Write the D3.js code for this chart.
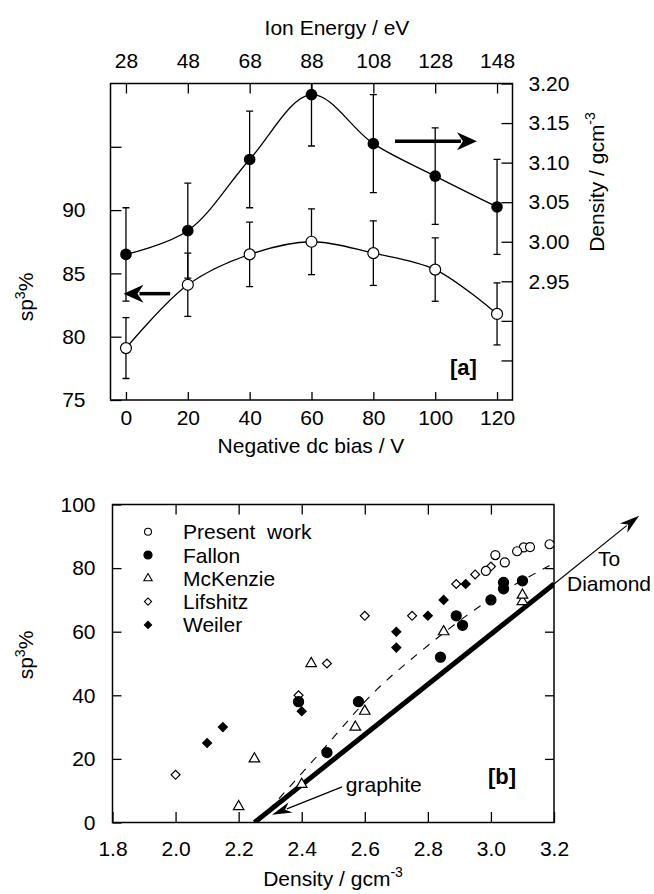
<!DOCTYPE html>
<html>
<head>
<meta charset="utf-8">
<script src="https://cdn.jsdelivr.net/npm/d3@7"></script>
<style>
body{margin:0;background:#fff}
svg{font-family:"Liberation Sans",Arial,sans-serif}
</style>
</head>
<body>
<div id="chart"></div>
<script>
// panel [a] : bias sweep
const biasV = [0, 20, 40, 60, 80, 100, 120]
const ionEnergy = [28, 48, 68, 88, 108, 128, 148]
const sp3Present = [79.1, 84.1, 86.5, 87.5, 86.6, 85.3, 81.8]
const sp3Err = [2.4, 2.5, 2.55, 2.6, 2.55, 2.5, 2.45]
const densityPresent = [2.984, 3.014, 3.104, 3.186, 3.124, 3.083, 3.044]
const densityErr = [0.059, 0.06, 0.061, 0.065, 0.062, 0.061, 0.06]
const sp3Ticks = [75, 80, 85, 90, 95]
const densityTicks = [2.85, 2.90, 2.95, 3.00, 3.05, 3.10, 3.15, 3.20]

// panel [b] : sp3 vs density, literature
const fallonDensity = [2.39, 2.48, 2.58, 2.84, 2.89, 2.91, 3.0, 3.04, 3.04, 3.1]
const fallonSp3 = [38, 22, 38, 52, 65, 62, 70, 73.5, 75.5, 76]
const mckenzieDensity = [2.2, 2.25, 2.4, 2.43, 2.57, 2.6, 2.85, 3.1, 3.1]
const mckenzieSp3 = [5, 20, 12, 50, 30, 35, 60, 69.5, 71.5]
const lifshitzDensity = [2.0, 2.39, 2.48, 2.6, 2.75, 2.89, 2.95, 3.0]
const lifshitzSp3 = [15, 40, 50, 65, 65, 75, 78, 80.5]
const weilerDensity = [2.1, 2.15, 2.4, 2.7, 2.7, 2.8, 2.85, 2.92]
const weilerSp3 = [25, 30, 35, 55, 60, 65, 70, 75]
const dashDensity = [2.26, 2.45, 2.64, 2.78, 2.95, 3.19]
const dashSp3 = [0, 21, 42, 54, 67, 81]
const idealDensity = [2.25, 3.2]
const idealSp3 = [0, 75]
const diamondDensity = [3.2, 3.47]
const diamondSp3 = [75, 96.5]
const densityTicksB = [1.8, 2.0, 2.2, 2.4, 2.6, 2.8, 3.0, 3.2]
const sp3TicksB = [0, 20, 40, 60, 80, 100]

const width = 654, height = 894
const fs = 21

let svg = d3.select('#chart').append('svg')
    .attr('width', width)
    .attr('height', height)

function arrow(g, x1, y1, x2, y2, w, headLen, headHalf){
    let a = Math.atan2(y2 - y1, x2 - x1)
    let bx = x2 - Math.cos(a) * headLen * 0.8,
        by = y2 - Math.sin(a) * headLen * 0.8
    g.append('line')
        .attr('x1', x1).attr('y1', y1)
        .attr('x2', bx).attr('y2', by)
        .attr('stroke', '#000')
        .attr('stroke-width', w)
    let px = -Math.sin(a), py = Math.cos(a)
    let hx = x2 - Math.cos(a) * headLen, hy = y2 - Math.sin(a) * headLen
    let nx = x2 - Math.cos(a) * headLen * 0.7, ny = y2 - Math.sin(a) * headLen * 0.7
    g.append('path')
        .attr('d', 'M' + x2 + ',' + y2 +
            'L' + (hx + px * headHalf) + ',' + (hy + py * headHalf) +
            'L' + nx + ',' + ny +
            'L' + (hx - px * headHalf) + ',' + (hy - py * headHalf) + 'Z')
        .attr('fill', '#000')
}

function styleAxis(g){
    g.select('.domain').remove()
    g.selectAll('line').attr('stroke', '#000').attr('stroke-width', 1.3)
    g.selectAll('text').attr('font-size', fs).attr('fill', '#000')
        .attr('font-family', '"Liberation Sans", Arial, sans-serif')
}

////////////////  panel a

let xa = d3.scaleLinear().domain([-5, 125]).range([110.5, 512.5])
let ya = d3.scaleLinear().domain([75, 100]).range([400, 83.5])
let yd = d3.scaleLinear().domain([2.80, 3.20]).range([400, 83.5])

let pa = svg.append('g')

pa.append('clipPath').attr('id', 'clipa')
    .append('rect')
    .attr('x', xa.range()[0]).attr('y', ya.range()[1])
    .attr('width', xa.range()[1] - xa.range()[0])
    .attr('height', ya.range()[0] - ya.range()[1])

pa.append('g')
    .attr('transform', 'translate(0,' + ya.range()[0] + ')')
    .call(d3.axisBottom(xa).tickValues(biasV).tickSizeInner(-8).tickSizeOuter(0).tickPadding(10))
    .call(styleAxis)

pa.append('g')
    .attr('transform', 'translate(0,' + ya.range()[1] + ')')
    .call(d3.axisTop(xa).tickValues(biasV).tickFormat(function(d, i){ return ionEnergy[i] })
        .tickSizeInner(-10).tickSizeOuter(0).tickPadding(16))
    .call(styleAxis)

pa.append('g')
    .attr('transform', 'translate(' + xa.range()[0] + ',0)')
    .call(d3.axisLeft(ya).tickValues(sp3Ticks).tickFormat(function(d){ return d < 95 ? d : '' })
        .tickSizeInner(-11).tickSizeOuter(0).tickPadding(25))
    .call(styleAxis)

pa.append('g')
    .attr('transform', 'translate(' + xa.range()[1] + ',0)')
    .call(d3.axisRight(yd).tickValues(densityTicks).tickFormat(function(d){ return d >= 2.949 ? d3.format('.2f')(d) : '' })
        .tickSizeInner(-11).tickSizeOuter(0).tickPadding(16))
    .call(styleAxis)

pa.append('rect')
    .attr('x', xa.range()[0]).attr('y', ya.range()[1])
    .attr('width', xa.range()[1] - xa.range()[0])
    .attr('height', ya.range()[0] - ya.range()[1])
    .attr('fill', 'none').attr('stroke', '#000').attr('stroke-width', 1.5)

let sp3Rows = biasV.map(function(b, i){ return {x: b, v: sp3Present[i], e: sp3Err[i]} })
let denRows = biasV.map(function(b, i){ return {x: b, v: densityPresent[i], e: densityErr[i]} })

let dataA = pa.append('g').attr('clip-path', 'url(#clipa)')

// curves
dataA.append('path')
    .datum(sp3Rows)
    .attr('d', d3.line().x(function(d){ return xa(d.x) }).y(function(d){ return ya(d.v) }).curve(d3.curveCatmullRom))
    .attr('fill', 'none').attr('stroke', '#000').attr('stroke-width', 1.3)

dataA.append('path')
    .datum(denRows)
    .attr('d', d3.line().x(function(d){ return xa(d.x) }).y(function(d){ return yd(d.v) }).curve(d3.curveCatmullRom))
    .attr('fill', 'none').attr('stroke', '#000').attr('stroke-width', 1.3)

// error bars
function errBars(rows, y){
    let g = dataA.append('g')
    g.selectAll('line.v').data(rows).enter().append('line')
        .attr('x1', function(d){ return xa(d.x) }).attr('x2', function(d){ return xa(d.x) })
        .attr('y1', function(d){ return y(d.v + d.e) }).attr('y2', function(d){ return y(d.v - d.e) })
        .attr('stroke', '#000').attr('stroke-width', 1.3)
    g.selectAll('line.t').data(rows).enter().append('line')
        .attr('x1', function(d){ return xa(d.x) - 3.5 }).attr('x2', function(d){ return xa(d.x) + 3.5 })
        .attr('y1', function(d){ return y(d.v + d.e) }).attr('y2', function(d){ return y(d.v + d.e) })
        .attr('stroke', '#000').attr('stroke-width', 1.3)
    g.selectAll('line.b').data(rows).enter().append('line')
        .attr('x1', function(d){ return xa(d.x) - 3.5 }).attr('x2', function(d){ return xa(d.x) + 3.5 })
        .attr('y1', function(d){ return y(d.v - d.e) }).attr('y2', function(d){ return y(d.v - d.e) })
        .attr('stroke', '#000').attr('stroke-width', 1.3)
}
errBars(sp3Rows, ya)
errBars(denRows, yd)

dataA.selectAll('circle.o').data(sp3Rows).enter().append('circle')
    .attr('cx', function(d){ return xa(d.x) }).attr('cy', function(d){ return ya(d.v) })
    .attr('r', 5.5).attr('fill', '#fff').attr('stroke', '#000').attr('stroke-width', 1.2)

dataA.selectAll('circle.f').data(denRows).enter().append('circle')
    .attr('cx', function(d){ return xa(d.x) }).attr('cy', function(d){ return yd(d.v) })
    .attr('r', 5.8).attr('fill', '#000')

// direction arrows
arrow(pa, xa(14.3), ya(83.4), xa(-0.8), ya(83.4), 3.5, 20, 9)
arrow(pa, xa(87), yd(3.127), xa(113.5), yd(3.127), 3.5, 20, 9)

pa.append('text')
    .attr('x', 450).attr('y', 375)
    .attr('font-size', 22).attr('font-weight', 'bold')
    .text('[a]')

pa.append('text')
    .attr('x', 337).attr('y', 35)
    .attr('text-anchor', 'middle').attr('font-size', fs)
    .text('Ion Energy / eV')

pa.append('text')
    .attr('x', 311).attr('y', 453)
    .attr('text-anchor', 'middle').attr('font-size', fs)
    .text('Negative dc bias / V')

let lblA = pa.append('text')
    .attr('transform', 'translate(33,297) rotate(-90)')
    .attr('text-anchor', 'middle').attr('font-size', fs)
lblA.append('tspan').text('sp')
lblA.append('tspan').attr('dy', -8).attr('font-size', 14).text('3')
lblA.append('tspan').attr('dy', 8).text('%')

let lblD = pa.append('text')
    .attr('transform', 'translate(604,182) rotate(-90)')
    .attr('text-anchor', 'middle').attr('font-size', fs)
lblD.append('tspan').text('Density  /  gcm')
lblD.append('tspan').attr('dy', -9).attr('font-size', 14).text('-3')

////////////////  panel b

let xb = d3.scaleLinear().domain([1.8, 3.2]).range([112.5, 554])
let yb = d3.scaleLinear().domain([0, 100]).range([822.5, 504.5])

let pb = svg.append('g')

pb.append('clipPath').attr('id', 'clipb')
    .append('rect')
    .attr('x', xb.range()[0]).attr('y', yb.range()[1])
    .attr('width', xb.range()[1] - xb.range()[0])
    .attr('height', yb.range()[0] - yb.range()[1])

pb.append('g')
    .attr('transform', 'translate(0,' + yb.range()[0] + ')')
    .call(d3.axisBottom(xb).tickValues(densityTicksB).tickFormat(d3.format('.1f'))
        .tickSizeInner(-10.5).tickSizeOuter(0).tickPadding(19))
    .call(styleAxis)

pb.append('g')
    .attr('transform', 'translate(0,' + yb.range()[1] + ')')
    .call(d3.axisTop(xb).tickValues(densityTicksB.slice(1, -1)).tickFormat('')
        .tickSizeInner(-10).tickSizeOuter(0))
    .call(styleAxis)

pb.append('g')
    .attr('transform', 'translate(' + xb.range()[0] + ',0)')
    .call(d3.axisLeft(yb).tickValues(sp3TicksB).tickSizeInner(-9).tickSizeOuter(0).tickPadding(17))
    .call(styleAxis)

pb.append('g')
    .attr('transform', 'translate(' + xb.range()[1] + ',0)')
    .call(d3.axisRight(yb).tickValues(sp3TicksB.slice(1, -1)).tickFormat('')
        .tickSizeInner(-9).tickSizeOuter(0))
    .call(styleAxis)

pb.append('rect')
    .attr('x', xb.range()[0]).attr('y', yb.range()[1])
    .attr('width', xb.range()[1] - xb.range()[0])
    .attr('height', yb.range()[0] - yb.range()[1])
    .attr('fill', 'none').attr('stroke', '#000').attr('stroke-width', 1.5)

let dataB = pb.append('g').attr('clip-path', 'url(#clipb)')

let lineB = d3.line()
    .x(function(d){ return xb(d[0]) })
    .y(function(d){ return yb(d[1]) })

dataB.append('path')
    .datum(d3.zip(dashDensity, dashSp3))
    .attr('d', lineB.curve(d3.curveMonotoneX))
    .attr('fill', 'none').attr('stroke', '#000').attr('stroke-width', 1.1)
    .attr('stroke-dasharray', '8,8')

dataB.append('path')
    .datum(d3.zip(idealDensity, idealSp3))
    .attr('d', lineB.curve(d3.curveLinear))
    .attr('fill', 'none').attr('stroke', '#000').attr('stroke-width', 5)

arrow(pb, xb(diamondDensity[0]), yb(diamondSp3[0]), xb(diamondDensity[1]), yb(diamondSp3[1]), 1.2, 20, 6)

function marks(dens, vals, sym, filled, size, rot){
    dataB.append('g').selectAll('path')
        .data(d3.zip(dens, vals))
        .enter().append('path')
        .attr('d', d3.symbol().type(sym).size(size))
        .attr('transform', function(d){ return 'translate(' + xb(d[0]) + ',' + yb(d[1]) + ') rotate(' + rot + ')' })
        .attr('fill', filled ? '#000' : '#fff')
        .attr('stroke', '#000').attr('stroke-width', 1.2)
}

marks(weilerDensity, weilerSp3, d3.symbolSquare, true, 40, 45)
marks(lifshitzDensity, lifshitzSp3, d3.symbolSquare, false, 40, 45)
marks(mckenzieDensity, mckenzieSp3, d3.symbolTriangle, false, 48, 0)
marks(fallonDensity, fallonSp3, d3.symbolCircle, true, 80, 0)
marks(densityPresent, sp3Present, d3.symbolCircle, false, 64, 0)

// graphite pointer
arrow(pb, xb(2.528), yb(11.2), xb(2.306), yb(2.4), 1.2, 20, 5.5)

pb.append('text')
    .attr('x', xb(2.54)).attr('y', yb(9.6))
    .attr('font-size', fs)
    .text('graphite')

pb.append('text')
    .attr('x', 609).attr('y', 566)
    .attr('text-anchor', 'middle').attr('font-size', fs)
    .text('To')

pb.append('text')
    .attr('x', 609).attr('y', 591)
    .attr('text-anchor', 'middle').attr('font-size', fs)
    .text('Diamond')

pb.append('text')
    .attr('x', 488).attr('y', 784)
    .attr('font-size', 22).attr('font-weight', 'bold')
    .text('[b]')

// legend
let legendNames = ['Present  work', 'Fallon', 'McKenzie', 'Lifshitz', 'Weiler']
let legendSym = [d3.symbolCircle, d3.symbolCircle, d3.symbolTriangle, d3.symbolSquare, d3.symbolSquare]
let legendFill = [false, true, false, false, true]
let legendSize = [38, 52, 30, 26, 26]
let legendRot = [0, 0, 0, 45, 45]

let legend = pb.append('g')

legend.selectAll('path')
    .data(legendNames)
    .enter().append('path')
    .attr('d', function(d, i){ return d3.symbol().type(legendSym[i]).size(legendSize[i])() })
    .attr('transform', function(d, i){ return 'translate(148,' + (531.7 + i * 23.3) + ') rotate(' + legendRot[i] + ')' })
    .attr('fill', function(d, i){ return legendFill[i] ? '#000' : '#fff' })
    .attr('stroke', '#000').attr('stroke-width', 1.1)

legend.selectAll('text')
    .data(legendNames)
    .enter().append('text')
    .attr('x', 183)
    .attr('y', function(d, i){ return 531.7 + i * 23.3 + 7.5 })
    .attr('font-size', fs)
    .attr('xml:space', 'preserve')
    .style('white-space', 'pre')
    .text(function(d){ return d })

pb.append('text')
    .attr('x', 333).attr('y', 886)
    .attr('text-anchor', 'middle').attr('font-size', fs)
    .call(function(t){
        t.append('tspan').text('Density  /  gcm')
        t.append('tspan').attr('dy', -9).attr('font-size', 14).text('-3')
    })

let lblB = pb.append('text')
    .attr('transform', 'translate(33,655) rotate(-90)')
    .attr('text-anchor', 'middle').attr('font-size', fs)
lblB.append('tspan').text('sp')
lblB.append('tspan').attr('dy', -8).attr('font-size', 14).text('3')
lblB.append('tspan').attr('dy', 8).text('%')
</script>
</body>
</html>
